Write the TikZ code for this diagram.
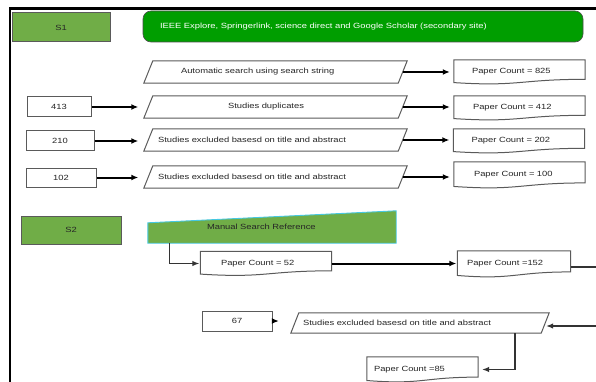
\documentclass[tikz,border=0pt]{standalone}
\usepackage{fontspec}
\setmainfont{Liberation Sans}[FakeStretch=1.25]
\usetikzlibrary{calc,arrows.meta,backgrounds}
\definecolor{sgreen}{RGB}{112,173,71}
\definecolor{bgreen}{RGB}{0,158,0}
\definecolor{mcyan}{RGB}{70,200,225}
\definecolor{lgray}{RGB}{90,90,90}
\tikzset{
  txt/.style={font=\fontsize{7.5}{9}\selectfont, inner sep=0pt, text=black!85},
  sbox/.style={txt, draw=lgray, line width=1pt, fill=sgreen, minimum width=98pt, minimum height=29pt},
  bigbox/.style={txt, text=white, fill=bgreen, draw=black!70, line width=0.6pt, rounded corners=8pt,
     minimum width=440pt, minimum height=31pt, text width=406pt, align=left},
  nbox/.style={txt, draw=lgray, line width=1pt, fill=white, minimum height=20pt},
  paranode/.style={txt, minimum width=254pt, minimum height=22pt, align=left},
  docnode/.style={txt, minimum width=131pt, minimum height=24pt, align=left},
  pline/.style={draw=lgray, line width=1pt},
  arr/.style={-{Latex[length=7pt,width=6pt]}, line width=2pt, black},
  tarr/.style={-{Latex[length=7pt,width=5.5pt]}, line width=1.2pt, black!80},
}
\newcommand{\paraout}[2]{\draw[pline] ([xshift=-#2]#1.south west) -- ([xshift=#2]#1.north west) -- ([xshift=#2]#1.north east) -- ([xshift=-#2]#1.south east) -- cycle;}
\newcommand{\docout}[1]{\draw[pline] (#1.north west) -- (#1.north east) -- ($(#1.north east)!0.8!(#1.south east)$) .. controls ($(#1.north)!0.8!(#1.south)$) and ($(#1.north)!1.107!(#1.south)$) .. ($(#1.north west)!0.934!(#1.south west)$) -- cycle;}
\begin{document}
\begin{tikzpicture}[x=1pt,y=-1pt]
\useasboundingbox (0,0) rectangle (596,382);
\begin{scope}[on background layer]
\fill[white] (0,0) rectangle (596,382);
\end{scope}
\clip (0,0) rectangle (596,382);
% frame
\draw[line width=2.5pt, black] (10,382) -- (10,8.5) -- (600,8.5);
% S1 section
\node[sbox] (s1) at (61,27.5) {S1};
\node[bigbox] (src) at (363,26.5) {IEEE Explore, Springerlink, science direct and Google Scholar (secondary site)};
\node[paranode, text width=189pt] (a1) at (275.5,72) {Automatic search using search string};
\node[paranode, text width=95pt] (a2) at (275.5,107) {Studies duplicates};
\node[paranode, text width=235pt] (a3) at (275.5,140) {Studies excluded basesd on title and abstract};
\node[paranode, text width=235pt] (a4) at (275.5,177) {Studies excluded basesd on title and abstract};
\foreach \n in {a1,a2,a3,a4} {\paraout{\n}{4.5pt}}
\node[docnode, text width=95pt] (c1) at (519.5,72) {Paper Count = 825};
\node[docnode, text width=93pt] (c2) at (519.5,108) {Paper Count = 412};
\node[docnode, text width=95pt] (c3) at (519,141) {Paper Count = 202};
\node[docnode, text width=91pt, minimum height=26pt] (c4) at (519.5,175) {Paper Count = 100};
\foreach \n in {c1,c2,c3,c4} {\docout{\n}}
\node[nbox, minimum width=64pt] (n2) at (59,107) {413};
\node[nbox, minimum width=68pt] (n3) at (60,141) {210};
\node[nbox, minimum width=70pt, minimum height=19pt] (n4) at (61,177.5) {102};
\draw[arr, shorten >=10pt] (n2.east) -- (n2.east -| a2.west);
\draw[arr, shorten >=10pt] (n3.east) -- (n3.east -| a3.west);
\draw[arr, shorten >=10pt] (n4.east) -- (n4.east -| a4.west);
\draw[arr, shorten >=4pt] (a1.east) -- (a1.east -| c1.west);
\draw[arr, shorten >=4pt] (a2.east) -- (a2.east -| c2.west);
\draw[arr, shorten >=4pt] (a3.east) -- (a3.east -| c3.west);
\draw[arr, shorten >=4pt] (a4.east) -- (a4.east -| c4.west);
% S2 section
\node[sbox, minimum width=100pt, minimum height=28pt] (s2) at (71,230) {S2};
\node[txt, minimum width=248pt, minimum height=32pt, text width=130pt, align=left] (msr) at (272,227) {Manual Search Reference};
\begin{scope}[on background layer]
\filldraw[fill=sgreen, draw=mcyan, line width=0.9pt] (msr.south west) -- ($(msr.north west)+(0,12)$) -- (msr.north east) -- (msr.south east) -- cycle;
\end{scope}
\node[docnode, text width=90pt] (p52) at (266,263.5) {Paper Count = 52};
\node[docnode, minimum width=113pt, minimum height=26pt, text width=94pt] (p152) at (514,264) {Paper Count =152};
\docout{p52}
\docout{p152}
\draw[tarr, shorten >=1pt] ([xshift=22pt]msr.south west) |- (p52.west);
\draw[arr, shorten >=1pt] (p52.east) -- (p52.east -| p152.west);
\node[nbox, minimum width=70pt] (n67) at (237,321) {67};
\node[paranode, minimum width=250pt, minimum height=20pt, text width=234pt] (pe) at (420,323) {Studies excluded basesd on title and abstract};
\paraout{pe}{4pt}
\node[docnode, minimum width=111pt, minimum height=25pt, text width=97pt] (p85) at (422.5,369.5) {Paper Count =85};
\docout{p85}
\coordinate (loop) at (612,300);
\draw[tarr, shorten >=1pt] ([yshift=-3pt]p152.east) -| (loop) |- ([yshift=-3pt]pe.east);
\draw[arr, line width=2.4pt, shorten >=16pt] (n67.east) -- (n67.east -| pe.west);
\draw[tarr, shorten >=4pt] ([xshift=95pt]pe.south) |- (p85.east);
\end{tikzpicture}
\end{document}
